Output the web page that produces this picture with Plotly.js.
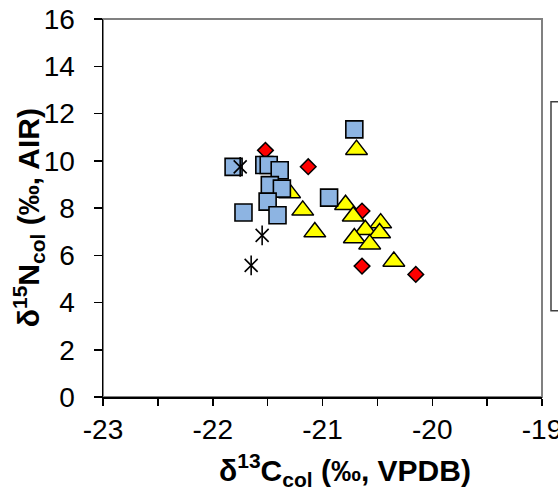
<!DOCTYPE html>
<html>
<head>
<meta charset="utf-8">
<script src="https://cdn.plot.ly/plotly-3.0.1.min.js"></script>
<style>html,body{margin:0;padding:0;background:#fff;}#chart{width:558px;height:497px;}</style>
</head>
<body>
<div id="chart"></div>
<script>
// Series: diamonds (red)
const diamondX = [-21.52, -21.13, -20.64, -20.64, -20.15];
const diamondY = [10.44, 9.75, 7.87, 5.54, 5.19];
// Series: triangles (yellow)
const triangleX = [-20.69, -21.18, -21.07, -20.79, -20.72, -20.47, -20.61, -20.48, -20.71, -20.57, -20.35, -21.30];
const triangleY = [10.47, 7.90, 6.98, 8.14, 7.65, 7.36, 7.08, 6.94, 6.73, 6.47, 5.74, 8.64];
// Series: squares (blue)
const squareX = [-20.71, -20.94, -21.81, -21.53, -21.49, -21.39, -21.48, -21.37, -21.50, -21.72, -21.41];
const squareY = [11.33, 8.44, 9.74, 9.82, 9.82, 9.60, 8.97, 8.82, 8.27, 7.81, 7.69];
// Series: asterisks (black)
const starX = [-21.75, -21.55, -21.65];
const starY = [9.74, 6.84, 5.57];

// Axis ticks
const xTickVals = [-23, -22.5, -22, -21.5, -21, -20.5, -20, -19.5, -19];
const xTickText = ['-23', '', '-22', '', '-21', '', '-20', '', '-19'];
const yTickVals = [0, 2, 4, 6, 8, 10, 12, 14, 16];

const font = 'Liberation Sans, Arial, sans-serif';

const traces = [
  {x: diamondX, y: diamondY, type: 'scatter', mode: 'markers', showlegend: false,
   marker: {symbol: 'diamond', size: 12, color: '#FF0000', line: {color: '#000', width: 1.5}}},
  {x: triangleX, y: triangleY, type: 'scatter', mode: 'markers', showlegend: false,
   marker: {symbol: 'triangle-up', size: 19, color: '#FFFF00', line: {color: '#000', width: 1.5}}},
  {x: squareX, y: squareY, type: 'scatter', mode: 'markers', showlegend: false,
   marker: {symbol: 'square', size: 17, color: '#8DB4E2', line: {color: '#000', width: 1.6}}},
  {x: starX, y: starY, type: 'scatter', mode: 'markers', showlegend: false,
   marker: {symbol: 'x-thin-open', size: 13, color: '#000', line: {color: '#000', width: 1.6}}},
  {x: starX, y: starY, type: 'scatter', mode: 'markers', showlegend: false,
   marker: {symbol: 'line-ns-open', size: 14, color: '#000', line: {color: '#000', width: 1.6}}}
];

const layout = {
  width: 558, height: 497,
  margin: {l: 103, r: 16, t: 19, b: 99.5},
  paper_bgcolor: '#fff', plot_bgcolor: '#fff',
  showlegend: false,
  font: {family: font, color: '#000'},
  xaxis: {
    range: [-23, -19], tickvals: xTickVals, ticktext: xTickText,
    showgrid: false, zeroline: false, showline: true, linecolor: '#000', linewidth: 1.5,
    ticks: 'outside', ticklen: 7, tickwidth: 1.5, tickcolor: '#000',
    tickfont: {size: 28, family: font, color: '#000'}, ticklabelstandoff: 0,
    ticklabeloverflow: 'allow'
  },
  yaxis: {
    range: [0, 16], tickvals: yTickVals,
    showgrid: false, zeroline: false, showline: true, linecolor: '#000', linewidth: 1.5,
    ticks: 'outside', ticklen: 8, tickwidth: 1.5, tickcolor: '#000',
    tickfont: {size: 28, family: font, color: '#000'}, ticklabelstandoff: 13,
    ticklabeloverflow: 'allow'
  },
  shapes: [
    {type: 'rect', xref: 'paper', yref: 'paper', x0: 0, x1: 1, y0: 0, y1: 1,
     line: {color: '#808080', width: 2}, layer: 'below'},
    {type: 'rect', xref: 'paper', yref: 'paper', x0: 1.0205, x1: 1.1, y0: 0.2285, y1: 0.781,
     line: {color: '#404040', width: 1.5}, fillcolor: '#fff'}
  ],
  annotations: [
    {xref: 'paper', yref: 'paper', x: 0.552, y: -0.194, xanchor: 'center', yanchor: 'middle',
     showarrow: false, text: '<b>δ<sup>13</sup>C<sub>col</sub> (‰, VPDB)</b>',
     font: {size: 30, family: font, color: '#000'}},
    {xref: 'paper', yref: 'paper', x: -0.17, y: 0.474, xanchor: 'center', yanchor: 'middle',
     showarrow: false, textangle: -90, text: '<b>δ<sup>15</sup>N<sub>col</sub> (‰, AIR)</b>',
     font: {size: 30, family: font, color: '#000'}}
  ]
};

Plotly.newPlot('chart', traces, layout, {displayModeBar: false, staticPlot: true});
</script>
</body>
</html>
